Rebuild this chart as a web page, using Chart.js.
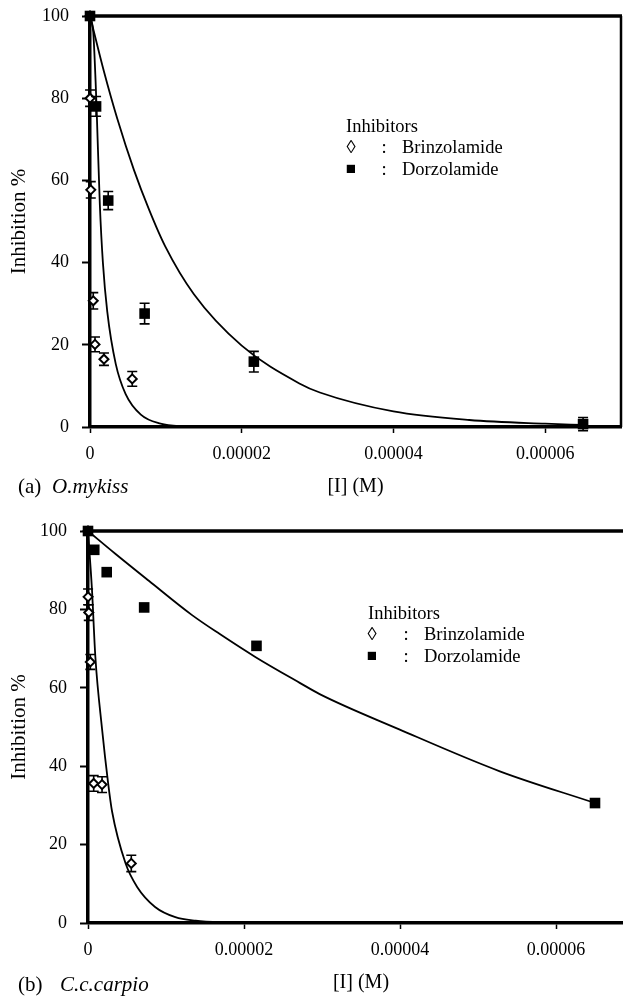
<!DOCTYPE html>
<html>
<head>
<meta charset="utf-8">
<script src="https://cdn.jsdelivr.net/npm/chart.js@4.4.1/dist/chart.umd.min.js"></script>
<style>
  html, body { margin: 0; padding: 0; background: #fff; overflow: hidden; width: 623px; height: 996px; }
  canvas { position: absolute; left: 0; }
</style>
</head>
<body>
<canvas id="chartA" width="623" height="500" style="top:0;width:623px;height:500px"></canvas>
<canvas id="chartB" width="640" height="496" style="top:500px;width:640px;height:496px"></canvas>
<script>
// shared axis ticks
const xTicks = [0, 0.00002, 0.00004, 0.00006];
const xTickLabels = ['0', '0.00002', '0.00004', '0.00006'];
const yTicks = [0, 20, 40, 60, 80, 100];

// (a) O.mykiss - measured points
const omBrinzX = [0, 1e-8, 1e-7, 4.3e-7, 6.6e-7, 1.84e-6, 5.57e-6];
const omBrinzY = [100, 80.0, 57.7, 30.7, 20.1, 16.5, 11.7];
const omBrinzErr = [0, 2, 2, 2, 1.8, 1.5, 1.8];
const omDorzX = [0, 8e-7, 2.4e-6, 7.2e-6, 2.16e-5, 6.5e-5];
const omDorzY = [100, 78.0, 55.1, 27.6, 15.9, 0.7];
const omDorzErr = [0, 2.4, 2.2, 2.5, 2.5, 1.6];
// (a) fitted curves
const omBrinzFitX = [0, 4.3e-7, 7.4e-7, 8.8e-7, 1.3e-6, 1.7e-6, 2.28e-6, 3.4e-6, 4.7e-6, 6.7e-6, 9.3e-6, 1.24e-5, 1.4e-5];
const omBrinzFitY = [100, 96, 84, 77, 54, 40, 28, 15.3, 8, 3, 0.8, 0.1, 0];
const omDorzFitX = [0, 1.84e-6, 3.6e-6, 5.8e-6, 7.76e-6, 9.9e-6, 1.37e-5, 2.0e-5, 2.76e-5, 3.03e-5, 4.0e-5, 5.0e-5, 6.0e-5, 6.5e-5];
const omDorzFitY = [100, 86.5, 75, 62.5, 53, 44, 32.3, 19.8, 10.6, 8.4, 3.8, 1.7, 0.8, 0.5];

// (b) C.c.carpio - measured points
const ccBrinzX = [0, 1e-8, 1e-7, 3e-7, 7.3e-7, 1.8e-6, 5.55e-6];
const ccBrinzY = [100, 83.2, 79.2, 66.6, 35.6, 35.3, 15.2];
const ccBrinzErr = [0, 2, 2, 1.9, 2, 2, 2.1];
const ccDorzX = [0, 8e-7, 2.4e-6, 7.2e-6, 2.16e-5, 6.5e-5];
const ccDorzY = [100, 95.2, 89.5, 80.5, 70.7, 30.6];
const ccDorzErr = [0, 0, 0, 0, 0, 0];
// (b) fitted curves
const ccBrinzFitX = [0, 5.1e-7, 9.4e-7, 1.8e-6, 2.56e-6, 3.08e-6, 4.8e-6, 6.3e-6, 8.6e-6, 1.12e-5, 1.38e-5, 1.86e-5];
const ccBrinzFitY = [100, 85, 68, 49.5, 36, 28.5, 15.3, 9.2, 4.1, 1.5, 0.6, 0];
const ccDorzFitX = [0, 3.5e-6, 7.8e-6, 1.33e-5, 1.69e-5, 2.15e-5, 2.72e-5, 2.97e-5, 3.99e-5, 5.28e-5, 6.5e-5];
const ccDorzFitY = [100, 94.2, 87.3, 78.6, 73.7, 67.8, 61.2, 58.4, 49.4, 38.7, 30.6];

const serif = '"Liberation Serif", "DejaVu Serif", serif';

function pts(xs, ys) {
  return xs.map((x, i) => ({ x: x, y: ys[i] }));
}

// vertical error bars, drawn just before the point markers
const errorBars = {
  id: 'errorBars',
  beforeDatasetDraw(chart, args) {
    const ds = chart.data.datasets[args.index];
    if (!ds.err) return;
    const ctx = chart.ctx, x = chart.scales.x, y = chart.scales.y;
    ctx.save();
    ctx.strokeStyle = '#000';
    ctx.lineWidth = 1.6;
    ds.data.forEach((p, i) => {
      const e = ds.err[i];
      if (!e) return;
      const px = x.getPixelForValue(p.x);
      const t = y.getPixelForValue(p.y + e), b = y.getPixelForValue(p.y - e);
      ctx.beginPath();
      ctx.moveTo(px, t); ctx.lineTo(px, b);
      ctx.moveTo(px - 5, t); ctx.lineTo(px + 5, t);
      ctx.moveTo(px - 5, b); ctx.lineTo(px + 5, b);
      ctx.stroke();
    });
    ctx.restore();
  }
};

// top / right frame lines, legend block and panel caption
const panelDeco = {
  id: 'panelDeco',
  beforeDatasetsDraw(chart) {
    const ctx = chart.ctx, a = chart.chartArea;
    ctx.save();
    ctx.strokeStyle = '#000';
    ctx.lineWidth = 3.5;
    ctx.beginPath();
    ctx.moveTo(a.left - 1, a.top); ctx.lineTo(a.right + 1, a.top);
    ctx.stroke();
    ctx.lineWidth = 2.5;
    ctx.beginPath();
    ctx.moveTo(a.right, a.top); ctx.lineTo(a.right, a.bottom);
    ctx.stroke();
    ctx.restore();
  },
  afterDraw(chart, args, o) {
    const ctx = chart.ctx;
    ctx.save();
    ctx.fillStyle = '#000';
    ctx.textBaseline = 'middle';
    ctx.font = '18.5px ' + serif;
    ctx.textAlign = 'left';
    ctx.fillText('Inhibitors', o.legX, o.legY);
    ctx.textAlign = 'center';
    ctx.fillText('\u25CA', o.symX, o.legY + 21);
    ctx.font = '17px ' + serif;
    ctx.fillText('\u25A0', o.symX, o.legY + 43);
    ctx.font = '18.5px ' + serif;
    ctx.fillText(':', o.colX, o.legY + 21);
    ctx.fillText(':', o.colX, o.legY + 43);
    ctx.textAlign = 'left';
    ctx.fillText('Brinzolamide', o.nameX, o.legY + 21);
    ctx.fillText('Dorzolamide', o.nameX, o.legY + 43);
    ctx.font = '21px ' + serif;
    ctx.fillText(o.tag, 18, o.capY);
    ctx.font = 'italic 21px ' + serif;
    ctx.fillText(o.species, o.speciesX, o.capY);
    ctx.restore();
  }
};

function noPad(s) {
  s.paddingTop = 0; s.paddingBottom = 0; s.paddingLeft = 0; s.paddingRight = 0;
}

function panel(id, d) {
  return new Chart(document.getElementById(id), {
    type: 'scatter',
    data: {
      datasets: [
        { label: 'Dorzolamide', data: pts(d.dX, d.dY), err: d.dErr, pointStyle: 'rect',
          pointRadius: 7.5, pointBorderWidth: 0, borderColor: '#000', backgroundColor: '#000', clip: false },
        { label: 'Brinzolamide', data: pts(d.bX, d.bY), err: d.bErr, pointStyle: 'rectRot',
          pointRadius: 4.5, pointBorderWidth: 2, borderColor: '#000', backgroundColor: '#fff', clip: false },
        { label: 'Brinzolamide fit', data: pts(d.bfX, d.bfY), showLine: true, pointRadius: 0,
          borderColor: '#000', borderWidth: 1.8, cubicInterpolationMode: 'monotone' },
        { label: 'Dorzolamide fit', data: pts(d.dfX, d.dfY), showLine: true, pointRadius: 0,
          borderColor: '#000', borderWidth: 1.8, cubicInterpolationMode: 'monotone' }
      ]
    },
    options: {
      responsive: false,
      maintainAspectRatio: false,
      animation: false,
      events: [],
      layout: { padding: d.pad, autoPadding: false },
      plugins: {
        legend: { display: false },
        tooltip: { enabled: false },
        panelDeco: d.deco
      },
      scales: {
        x: {
          type: 'linear', min: 0, max: 0.00007,
          afterBuildTicks: s => { s.ticks = xTicks.map(v => ({ value: v })); },
          afterFit: s => { s.height = d.xH; noPad(s); },
          ticks: {
            color: '#000', font: { family: serif, size: 18 }, padding: 10, maxRotation: 0,
            callback: v => xTickLabels[xTicks.indexOf(v)]
          },
          grid: { drawOnChartArea: false, color: '#000', tickLength: 6, tickWidth: 1.5, tickColor: '#000' },
          border: { color: '#000', width: 3.5 },
          title: { display: true, text: '[I] (M)', color: '#000', font: { family: serif, size: 20 }, padding: { top: 0, bottom: 1 } }
        },
        y: {
          min: 0, max: 100,
          afterBuildTicks: s => { s.ticks = yTicks.map(v => ({ value: v })); },
          afterFit: s => { s.width = d.yW; noPad(s); },
          ticks: { color: '#000', font: { family: serif, size: 18 }, padding: 13 },
          grid: { drawOnChartArea: false, color: '#000', tickLength: 8, tickWidth: 2, tickColor: '#000' },
          border: { color: '#000', width: 3.5 },
          title: { display: true, text: 'Inhibition %', color: '#000', font: { family: serif, size: 21 }, padding: { top: 7, bottom: 0 } }
        }
      }
    },
    plugins: [errorBars, panelDeco]
  });
}

panel('chartA', {
  bX: omBrinzX, bY: omBrinzY, bErr: omBrinzErr,
  dX: omDorzX, dY: omDorzY, dErr: omDorzErr,
  bfX: omBrinzFitX, bfY: omBrinzFitY, dfX: omDorzFitX, dfY: omDorzFitY,
  pad: { top: 16, right: 2, bottom: 0, left: 0 }, xH: 73, yW: 90,
  deco: { legX: 346, legY: 127, symX: 351, colX: 384, nameX: 402, tag: '(a)', species: 'O.mykiss', speciesX: 52, capY: 487 }
});

panel('chartB', {
  bX: ccBrinzX, bY: ccBrinzY, bErr: ccBrinzErr,
  dX: ccDorzX, dY: ccDorzY, dErr: ccDorzErr,
  bfX: ccBrinzFitX, bfY: ccBrinzFitY, dfX: ccDorzFitX, dfY: ccDorzFitY,
  pad: { top: 31, right: 6, bottom: 0, left: 0 }, xH: 73, yW: 88,
  deco: { legX: 368, legY: 114, symX: 372, colX: 406, nameX: 424, tag: '(b)', species: 'C.c.carpio', speciesX: 60, capY: 485 }
});
</script>
</body>
</html>
